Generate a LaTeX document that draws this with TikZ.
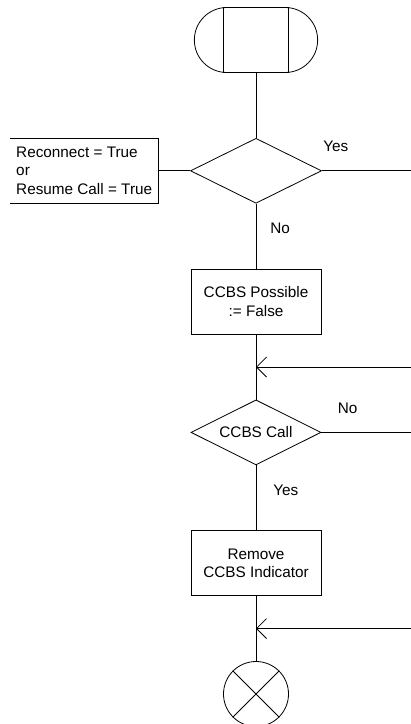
\documentclass[tikz,border=0pt]{standalone}
\usepackage{fontspec}
\setmainfont{Liberation Sans}
\usetikzlibrary{arrows.meta,positioning,shapes.geometric,shapes.misc}

\begin{document}
\begin{tikzpicture}[x=1pt,y=-1pt,line width=0.8pt,
    every node/.style={font=\fontsize{15.3}{18.5}\selectfont},node distance=65pt]
  \tikzstyle{box}=[draw,minimum width=130pt,minimum height=65pt,align=center,inner sep=2pt]
  \tikzstyle{decision}=[draw,diamond,minimum width=130pt,minimum height=65pt,
                        inner sep=0pt,aspect=2]
  \tikzstyle{lbl}=[inner sep=0pt]
  \tikzstyle{merge}=[-{Straight Barb[length=10pt,width=20pt]}]

  \useasboundingbox (0,0) rectangle (411,724);

  \node[draw,rounded rectangle,minimum width=130pt,minimum height=65pt] (start) at (256,40) {};
  \draw ([xshift=-32.5pt]start.north) -- ([xshift=-32.5pt]start.south);
  \draw ([xshift=32.5pt]start.north) -- ([xshift=32.5pt]start.south);

  \node[decision,below=of start,minimum width=131pt] (dec1) {};
  \node[left=32pt of dec1,minimum width=147pt,minimum height=65pt,align=left,inner sep=5pt]
       (cond) {Reconnect = True\\or\\Resume Call = True};
  \draw (cond.north west) -- (cond.north east) -- (cond.south east) -- (cond.south west);
  \coordinate[right=89pt of dec1.east] (yes1);

  \node[box,below=of dec1] (set1) {CCBS Possible\\:= False};
  \node[decision,below=of set1] (dec2) {CCBS Call};
  \coordinate[right=90pt of dec2.east] (no2);
  \node[box,below=of dec2] (set2) {Remove\\CCBS Indicator};
  \node[draw,circle,minimum size=65pt,inner sep=0pt,below=of set2] (stop) {};
  \draw (stop.north west) -- (stop.south east);
  \draw (stop.north east) -- (stop.south west);

  \coordinate[below=32.5pt of set1] (j1);
  \coordinate[right=155pt of j1] (in1);
  \coordinate[below=32.5pt of set2] (j2);
  \coordinate[right=155pt of j2] (in2);

  \draw (start) -- (dec1);
  \draw (cond.east) -- (dec1.west);
  \draw (dec1.east) -- (yes1);
  \draw (dec1) -- (set1);
  \draw (set1) -- (dec2);
  \draw (dec2.east) -- (no2);
  \draw (dec2) -- (set2);
  \draw (set2) -- (stop);
  \draw[merge] (in1) -- (j1);
  \draw[merge] (in2) -- (j2);

  \node[lbl,above right=18.5pt and 1pt of dec1.east] {Yes};
  \node[lbl,below right=18.5pt and 14pt of dec1.south] {No};
  \node[lbl,above right=18pt and 16pt of dec2.east] {No};
  \node[lbl,below right=19pt and 17pt of dec2.south] {Yes};
\end{tikzpicture}
\end{document}
